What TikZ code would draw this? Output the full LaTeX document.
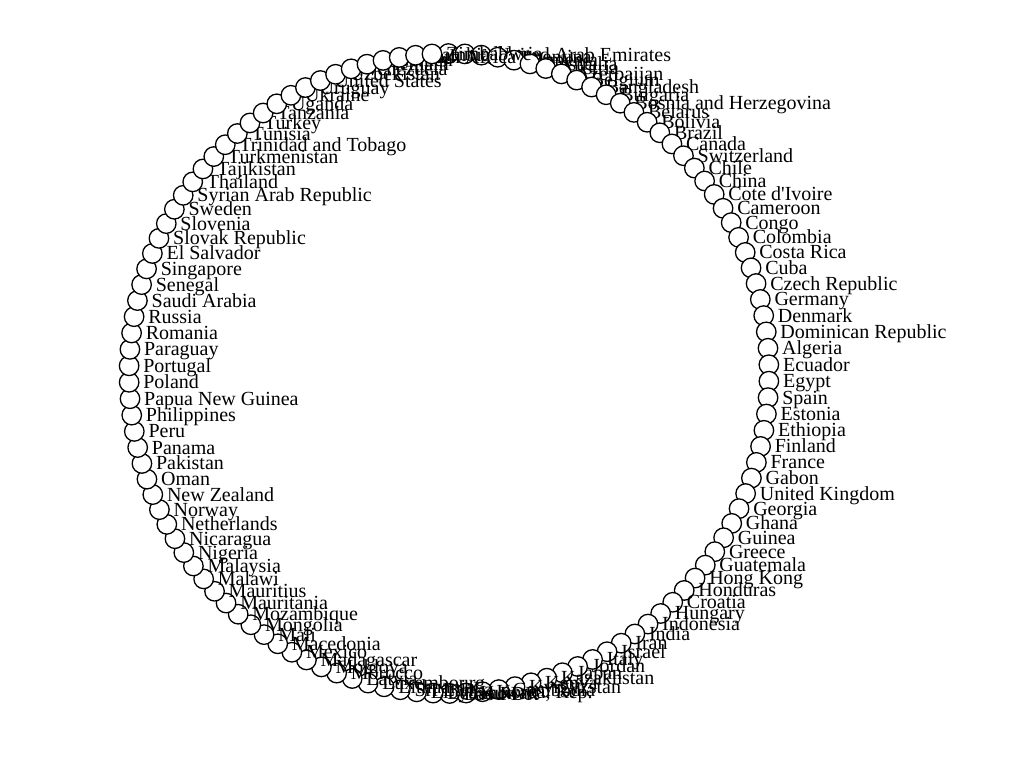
\documentclass[tikz,border=0pt]{standalone}
\usepackage{fontspec}
\setmainfont{Liberation Serif}
\begin{document}
\begin{tikzpicture}[x=1pt,y=-1pt,
  dot/.style={circle, draw=black, fill=white, line width=1.3pt, minimum size=19.5pt, inner sep=0pt},
  lab/.style={anchor=base west, inner sep=0pt, font=\fontsize{20}{20}\selectfont}]
\useasboundingbox[fill=white] (0,0) rectangle (1012,762);
\foreach \name [count=\i from 0] in {Angola,Albania,United Arab Emirates,Argentina,Armenia,Australia,Austria,Azerbaijan,Belgium,Bangladesh,Bulgaria,Bosnia and Herzegovina,Belarus,Bolivia,Brazil,Canada,Switzerland,Chile,China,Cote d\textquotesingle Ivoire,Cameroon,Congo,Colombia,Costa Rica,Cuba,Czech Republic,Germany,Denmark,Dominican Republic,Algeria,Ecuador,Egypt,Spain,Estonia,Ethiopia,Finland,France,Gabon,United Kingdom,Georgia,Ghana,Guinea,Greece,Guatemala,Hong Kong,Honduras,Croatia,Hungary,Indonesia,India,Iran,Israel,Italy,Jordan,Japan,Kazakhstan,Kenya,Kyrgyzstan,Cambodia,{Korea, Rep.},Kuwait,Lao PDR,Lebanon,Libya,Sri Lanka,Lithuania,Luxembourg,Latvia,Morocco,Moldova,Madagascar,Mexico,Macedonia,Mali,Mongolia,Mozambique,Mauritania,Mauritius,Malawi,Malaysia,Nigeria,Nicaragua,Netherlands,Norway,New Zealand,Oman,Pakistan,Panama,Peru,Philippines,Papua New Guinea,Poland,Portugal,Paraguay,Romania,Russia,Saudi Arabia,Senegal,Singapore,El Salvador,Slovak Republic,Slovenia,Sweden,Syrian Arab Republic,Thailand,Tajikistan,Turkmenistan,Trinidad and Tobago,Tunisia,Turkey,Tanzania,Uganda,Ukraine,Uruguay,United States,Uzbekistan,Venezuela,Vietnam,Yemen,South Africa,Zambia,Zimbabwe} {
  \pgfmathsetmacro\a{-0.1+\i*2.95082}
  \node[dot] (n\i) at ({449+320*sin(\a)},{373.5-320*cos(\a)}) {};
  \node[lab] (l\i) at ([shift={(14pt,-6.5pt)}]n\i.center) {\name};
}
\end{tikzpicture}
\end{document}
